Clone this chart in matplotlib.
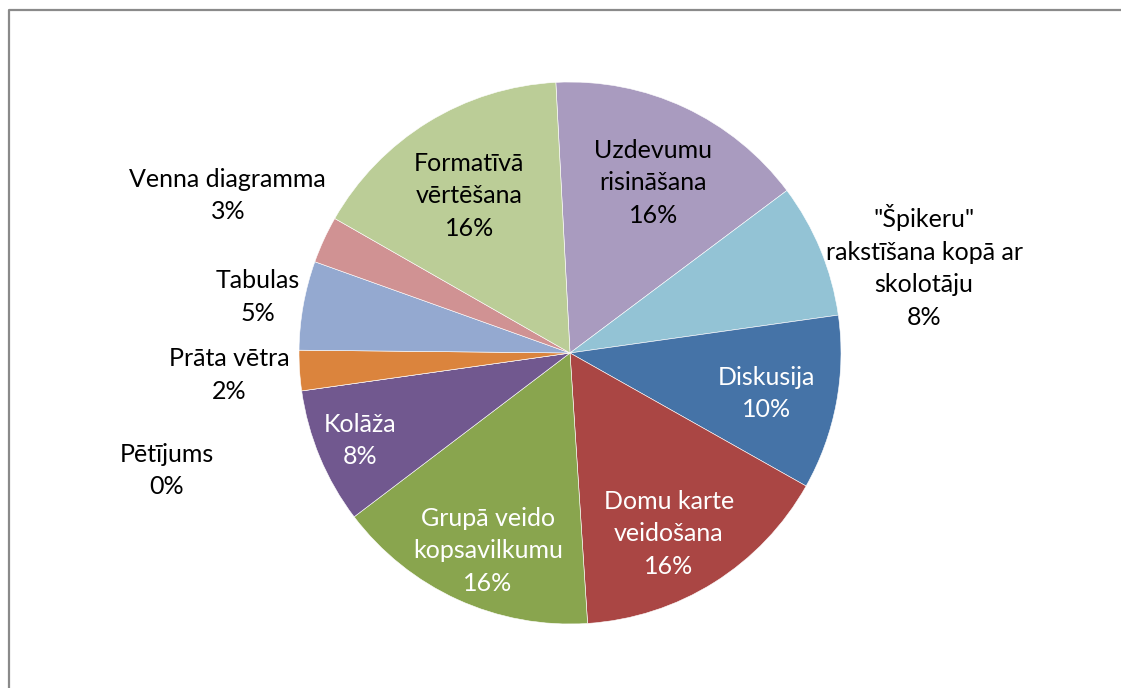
import numpy as np
import matplotlib.pyplot as plt

plt.rcParams['font.family'] = ['Lato', 'DejaVu Sans']

# dati (procenti no attēla)
metodes = ['Uzdevumu\nrisināšana', '"Špikeru"\nrakstīšana kopā ar\nskolotāju', 'Diskusija',
           'Domu karte\nveidošana', 'Grupā veido\nkopsavilkumu', 'Kolāža', 'Pētījums',
           'Prāta vētra', 'Tabulas', 'Venna diagramma', 'Formatīvā\nvērtēšana']
vertibas = [15.6, 8.0, 10.4, 15.8, 15.7, 8.1, 0.0, 2.4, 5.3, 2.8, 15.9]
krasas = ['#A99BBF', '#93C3D5', '#4573A7', '#AA4644', '#89A54E', '#71588F', '#4BACC6',
          '#DB843D', '#94A9D0', '#D09293', '#BBCD97']
teksta_krasas = ['black', 'black', 'white', 'white', 'white', 'white', 'black',
                 'black', 'black', 'black', 'black']
# etiķešu novietojums: attālums no centra (rādiusa daļas) un leņķa nobīde
etik_r = [0.70, 1.345, 0.74, 0.76, 0.79, 0.84, 1.55, 1.26, 1.17, 1.39, 0.69]
etik_nobide = [-1, -8.7, -1, -3.5, 2, 0, 8.2, 0, 0, 0, 1]

W, H = 1121, 688
fig = plt.figure(figsize=(W / 100, H / 100), dpi=100)
ax = fig.add_axes([0, 0, 1, 1])

R = 271
cx, cy = 570, H - 353
wedges, _ = ax.pie(vertibas, colors=krasas, startangle=93, counterclock=False,
                   radius=R, center=(cx, cy), frame=True,
                   wedgeprops=dict(edgecolor='white', linewidth=0.4))
ax.set_xlim(0, W)
ax.set_ylim(0, H)
ax.set_aspect('auto')
ax.axis('off')

for w, nos, v, tk, r, d in zip(wedges, metodes, vertibas, teksta_krasas, etik_r, etik_nobide):
    ang = np.deg2rad((w.theta1 + w.theta2) / 2 + d)
    x = cx + r * R * np.cos(ang)
    y = cy + r * R * np.sin(ang)
    ax.text(x, y, '{}\n{:.0f}%'.format(nos, v), ha='center', va='center',
            fontsize=18, color=tk, linespacing=1.5)

# rāmis
ax.plot([9, 9, W + 10], [-10, H - 9.5, H - 9.5], color='#8A8A8A', lw=1.6, clip_on=False)

fig.savefig('out.png', dpi=100)
